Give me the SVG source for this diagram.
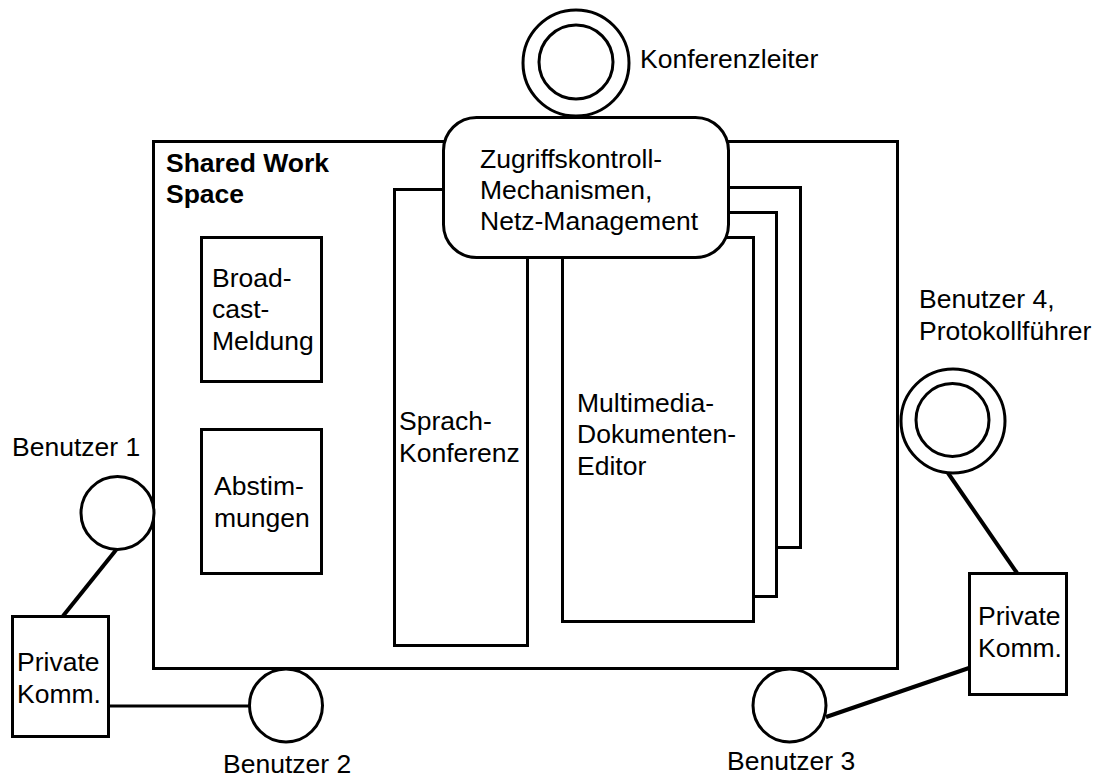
<svg xmlns="http://www.w3.org/2000/svg" width="1098" height="780" viewBox="0 0 1098 780">
<style>
.box{fill:#fff;stroke:#000;stroke-width:3}
.circ{fill:#fff;stroke:#000;stroke-width:3}
.conn{stroke:#000;stroke-width:4;fill:none}
text{font-family:"Liberation Sans",Arial,sans-serif;font-size:26.5px;fill:#000}
.b{font-weight:bold}
</style>
<rect width="1098" height="780" fill="#fff"/>
<g id="connectors">
<line class="conn" x1="116" y1="550" x2="63" y2="616"/>
<line class="conn" x1="108" y1="706" x2="250" y2="706" style="stroke-width:3"/>
<line class="conn" x1="826" y1="717" x2="969" y2="668"/>
<line class="conn" x1="948" y1="473" x2="1017" y2="573"/>
</g>
<g id="shared-work-space">
<rect class="box" x="153.5" y="141.5" width="744" height="527"/>
<text class="b" x="166" y="172">Shared Work</text>
<text class="b" x="166" y="203">Space</text>
</g>
<g id="broadcast">
<rect class="box" x="201.5" y="237.5" width="120" height="144"/>
<text x="212" y="287">Broad-</text>
<text x="212" y="318">cast-</text>
<text x="212" y="350">Meldung</text>
</g>
<g id="abstimmungen">
<rect class="box" x="201.5" y="429.5" width="120" height="144"/>
<text x="214" y="495">Abstim-</text>
<text x="214" y="527">mungen</text>
</g>
<g id="sprachkonferenz">
<rect class="box" x="394.5" y="189.5" width="133" height="456"/>
<text x="399" y="430">Sprach-</text>
<text x="399" y="462">Konferenz</text>
</g>
<g id="multimedia-editor">
<rect class="box" x="610.5" y="187.5" width="190" height="360"/>
<rect class="box" x="586.5" y="212.5" width="190" height="384"/>
<rect class="box" x="562.5" y="237.5" width="191" height="384"/>
<text x="577" y="412">Multimedia-</text>
<text x="577" y="443">Dokumenten-</text>
<text x="577" y="475">Editor</text>
</g>
<g id="zugriffskontrolle">
<rect class="box" x="443.5" y="117.5" width="285" height="140" rx="33" ry="33"/>
<text x="480" y="168">Zugriffskontroll-</text>
<text x="480" y="199">Mechanismen,</text>
<text x="480" y="230">Netz-Management</text>
</g>
<g id="konferenzleiter">
<circle class="circ" cx="576" cy="63" r="53"/>
<circle class="circ" cx="576" cy="62" r="37"/>
<text x="640" y="68">Konferenzleiter</text>
</g>
<g id="benutzer1">
<circle class="circ" cx="117.5" cy="513" r="36.5"/>
<text x="12" y="456">Benutzer 1</text>
</g>
<g id="private-komm-1">
<rect class="box" x="12.5" y="616.5" width="96" height="120"/>
<text x="17" y="671">Private</text>
<text x="17" y="703">Komm.</text>
</g>
<g id="benutzer2">
<circle class="circ" cx="286" cy="705.5" r="36.5"/>
<text x="223" y="773">Benutzer 2</text>
</g>
<g id="benutzer3">
<circle class="circ" cx="789.5" cy="705.5" r="36.5"/>
<text x="727" y="770">Benutzer 3</text>
</g>
<g id="benutzer4">
<circle class="circ" cx="953" cy="421" r="52"/>
<circle class="circ" cx="952.5" cy="420" r="36.5"/>
<text x="919" y="308">Benutzer 4,</text>
<text x="919" y="340">Protokollführer</text>
</g>
<g id="private-komm-4">
<rect class="box" x="969.5" y="573.5" width="97" height="121"/>
<text x="978" y="625">Private</text>
<text x="978" y="657">Komm.</text>
</g>
</svg>
